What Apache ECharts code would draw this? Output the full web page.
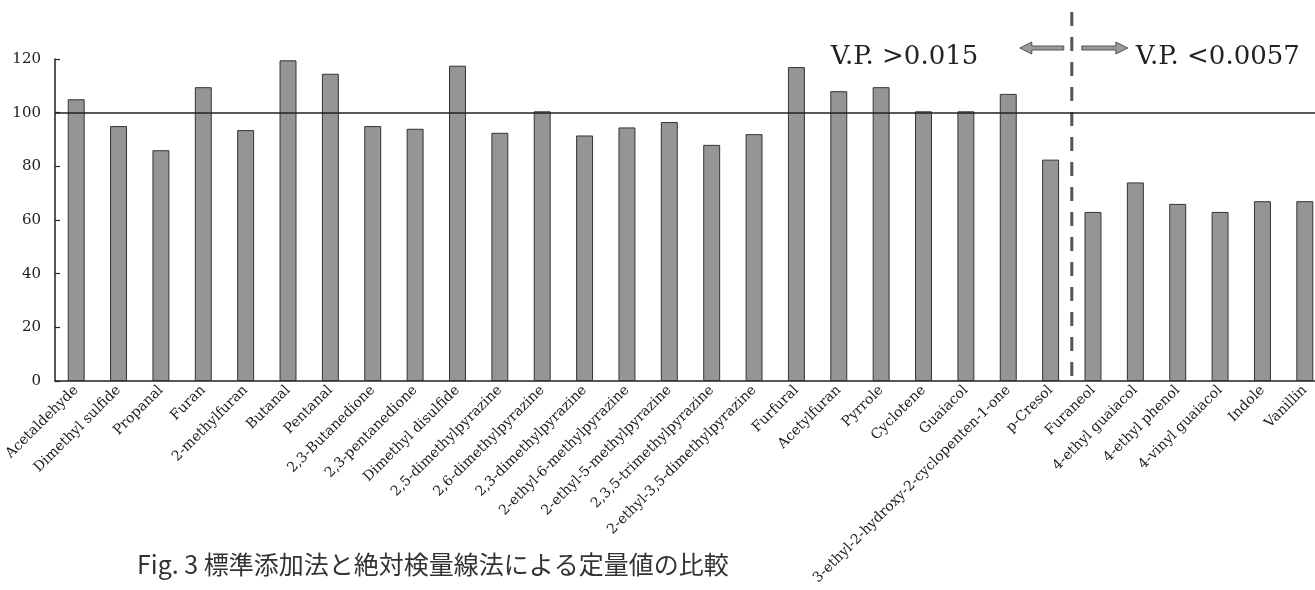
<!DOCTYPE html>
<html>
<head>
<meta charset="utf-8">
<script src="https://cdn.jsdelivr.net/npm/echarts@6/dist/echarts.min.js"></script>
<style>
html,body{margin:0;padding:0;background:#fff;}
#chart{width:1315px;height:590px;}
</style>
</head>
<body>
<div id="chart"></div>
<script>
const categories = ["Acetaldehyde","Dimethyl sulfide","Propanal","Furan","2-methylfuran","Butanal","Pentanal","2,3-Butanedione","2,3-pentanedione","Dimethyl disulfide","2,5-dimethylpyrazine","2,6-dimethylpyrazine","2,3-dimethylpyrazine","2-ethyl-6-methylpyrazine","2-ethyl-5-methylpyrazine","2,3,5-trimethylpyrazine","2-ethyl-3,5-dimethylpyrazine","Furfural","Acetylfuran","Pyrrole","Cyclotene","Guaiacol","3-ethyl-2-hydroxy-2-cyclopenten-1-one","p-Cresol","Furaneol","4-ethyl guaiacol","4-ethyl phenol","4-vinyl guaiacol","Indole","Vanillin"];
const values = [105,95,86,109.5,93.5,119.5,114.5,95,94,117.5,92.5,100.5,91.5,94.5,96.5,88,92,117,108,109.5,100.5,100.5,107,82.5,63,74,66,63,67,67];
const yTicks = [0,20,40,60,80,100,120];
const referenceValue = 100;
const splitPosition = 23.5; // between p-Cresol and Furaneol
const leftNote = "V.P. >0.015";
const rightNote = "V.P. <0.0057";
const caption = "Fig. 3 標準添加法と絶対検量線法による定量値の比較";

const chart = echarts.init(document.getElementById('chart'), null, {renderer:'canvas'});
const serif = "'DejaVu Serif', 'Liberation Serif', serif";
chart.setOption({
  animation:false,
  backgroundColor:'#fff',
  grid:{left:55, right:-11, top:59, bottom:209, containLabel:false, outerBoundsMode:'none'},
  xAxis:[{
    type:'category', data:categories,
    axisLine:{onZero:false, lineStyle:{color:'#222', width:1.5}},
    axisTick:{show:false},
    axisLabel:{interval:0, rotate:45, margin:7, fontFamily:serif, fontSize:14, color:'#1a1a1a', hideOverlap:false},
    splitLine:{show:false}
  },{
    type:'value', min:-0.5, max:categories.length-0.5, show:false
  }],
  yAxis:{
    type:'value', min:yTicks[0], max:yTicks[yTicks.length-1], interval:20,
    axisLine:{show:true, onZero:false, lineStyle:{color:'#222', width:1.5}},
    axisTick:{show:true, inside:true, length:5, lineStyle:{color:'#222', width:1.2}},
    axisLabel:{margin:14, fontFamily:serif, fontSize:15, color:'#222'},
    splitLine:{show:false}
  },
  series:[{
    type:'bar', data:values, barWidth:'40%',
    itemStyle:{color:'#959595', borderColor:'#333', borderWidth:1},
    markLine:{
      silent:true, symbol:['none','none'],
      label:{show:false},
      lineStyle:{color:'#222', width:1.5, type:'solid'},
      data:[{yAxis:referenceValue}]
    }
  },{
    type:'scatter', xAxisIndex:1, data:[], silent:true
  }]
});

const lx = chart.convertToPixel({xAxisIndex:1}, splitPosition);
const y0 = chart.convertToPixel({yAxisIndex:0}, 0);
const yTop = 12;
const ay = 48;
function arrow(x1, x2){
  const d = x2 > x1 ? 1 : -1;
  const head = 12, sh = 2, hh = 6;
  const hx = x2 - d*head;
  return {type:'polygon', shape:{points:[[x1,ay-sh],[hx,ay-sh],[hx,ay-hh],[x2,ay],[hx,ay+hh],[hx,ay+sh],[x1,ay+sh]]},
    style:{fill:'#9a9a9a', stroke:'#555', lineWidth:1}};
}
chart.setOption({graphic:[
  {type:'line', shape:{x1:lx, y1:yTop, x2:lx, y2:y0}, style:{stroke:'#555', lineWidth:3, lineDash:[14,11]}},
  arrow(lx-8, lx-52),
  arrow(lx+10, lx+56),
  {type:'text', left:lx-241, top:44, style:{text:leftNote, font:"26px 'DejaVu Serif', serif", fill:'#222'}},
  {type:'text', left:lx+64, top:44, style:{text:rightNote, font:"26px 'DejaVu Serif', serif", fill:'#222'}},
  {type:'text', left:137, top:552, style:{text:caption, font:"25px 'Noto Sans CJK JP', sans-serif", fill:'#333'}}
]});
</script>
</body>
</html>
